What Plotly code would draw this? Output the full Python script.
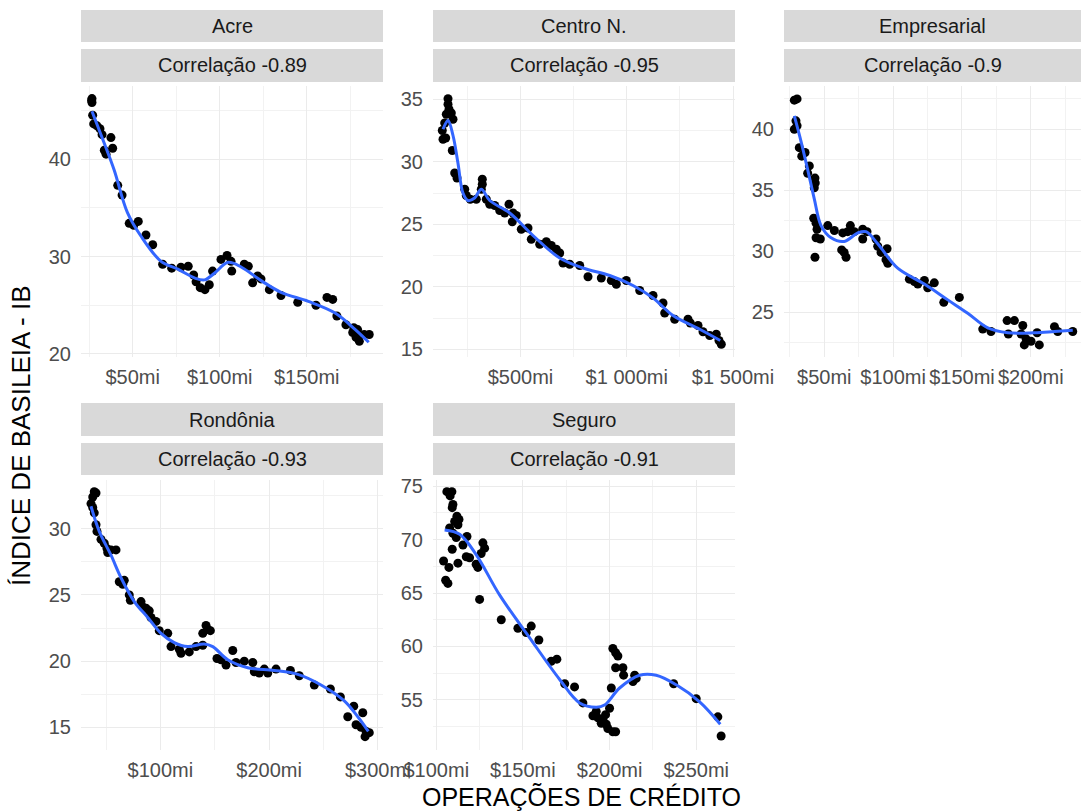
import plotly.graph_objects as go

W, H = 1081, 811
FONT = "Liberation Sans, Arial, sans-serif"

# ---------------- dados: operações de crédito (R$ mi) x índice de Basileia ----------------
acre_credito = [26.6, 26.6, 26.4, 27.0, 27.6, 29.5, 31.2, 32.4, 37.5, 33.7, 34.7, 38.5, 41.4, 43.9,
                48.0, 50.6, 53.2, 57.6, 61.5, 67.2, 72.4, 77.7, 81.9, 85.0, 86.4, 88.8, 91.5, 94.0,
                95.9, 100.7, 104.2, 106.5, 106.9, 114.1, 116.4, 118.9, 121.8, 123.7, 128.5, 135.2,
                144.8, 155.3, 161.6, 164.9, 167.3, 172.5, 176.4, 178.3, 180.2, 183.0, 185.9, 179.2, 177.0]
acre_ib = [46.2, 45.8, 46.0, 44.5, 43.6, 43.4, 43.1, 42.5, 42.2, 40.9, 40.5, 41.1, 37.3, 36.3,
           33.4, 33.2, 33.6, 32.2, 31.2, 29.2, 28.8, 28.9, 29.0, 28.1, 27.4, 26.8, 26.6, 27.1,
           28.5, 29.7, 30.1, 29.5, 28.5, 29.2, 29.0, 27.3, 28.0, 27.7, 26.6, 26.0,
           25.3, 25.0, 25.8, 25.6, 23.9, 23.0, 22.2, 21.7, 21.3, 22.0, 22.0, 22.5, 22.7]
acre_fit_credito = [26.6, 33.5, 39.3, 47.0, 54.7, 66.3, 75.9, 85.5, 91.3, 97.1, 104.8, 112.5,
                    124.0, 135.5, 150.9, 166.3, 177.9, 185.6]
acre_fit_ib = [44.9, 41.7, 38.9, 34.5, 32.1, 29.5, 28.7, 27.8, 27.6, 28.3, 29.4, 28.9,
               27.5, 26.3, 25.4, 24.2, 22.5, 21.2]

centro_credito = [159.2, 159.2, 163.9, 151.2, 174.7, 182.7, 143.7, 132.4, 135.7, 148.4, 179.4, 190.7,
                  201.5, 237.8, 245.3, 264.1, 292.3, 320.6, 320.6, 315.9, 339.4, 355.4, 378.9, 402.4,
                  426.0, 446.2, 465.0, 461.7, 480.5, 504.0, 535.6, 551.1, 590.6, 621.7, 645.2, 668.7,
                  684.7, 700.2, 731.7, 778.8, 817.8, 880.4, 927.5, 951.0, 998.0, 1061.1, 1123.7, 1170.7,
                  1178.7, 1225.7, 1288.3, 1299.1, 1335.4, 1358.9, 1390.3, 1421.4, 1434.1, 1445.0]
centro_ib = [35.05, 34.6, 34.2, 33.8, 33.9, 33.4, 33.1, 32.5, 31.8, 31.9, 30.9, 29.1,
             28.7, 27.8, 27.3, 27.0, 27.0, 28.6, 28.2, 27.8, 27.0, 26.6, 26.5, 26.1,
             25.9, 26.6, 25.9, 25.2, 25.7, 24.6, 24.7, 23.8, 23.4, 23.6, 23.3, 23.0,
             22.7, 21.9, 21.8, 21.7, 20.8, 20.7, 20.5, 20.2, 20.5, 19.7, 19.3, 18.7,
             17.9, 17.4, 17.4, 17.1, 16.9, 16.4, 16.1, 16.2, 15.7, 15.4]
centro_fit_credito = [135.7, 159.2, 182.7, 206.0, 229.5, 253.0, 284.5, 315.9, 355.4, 449.5, 559.0,
                      684.7, 794.3, 920.0, 1029.5, 1123.7, 1217.8, 1343.3, 1440.0]
centro_fit_ib = [32.6, 33.3, 32.1, 29.9, 27.5, 26.9, 27.1, 27.8, 26.9, 25.9, 24.1,
                 22.3, 21.5, 20.9, 20.1, 19.1, 17.7, 16.6, 15.7]

empresa_credito = [28.2, 30.2, 29.4, 28.2, 30.2, 31.8, 33.6, 36.0, 39.1, 37.9, 43.2, 43.4, 42.7,
                   42.3, 44.0, 44.7, 44.0, 47.1, 43.2, 52.5, 57.3, 63.4, 62.6, 65.8, 64.4, 68.9,
                   67.0, 71.8, 77.9, 81.0, 77.9, 87.6, 88.8, 91.2, 95.6, 94.8, 96.1, 111.8, 115.4,
                   117.9, 122.7, 125.1, 129.9, 136.8, 148.1, 165.1, 171.1, 182.8, 188.1, 183.7,
                   194.2, 193.0, 196.6, 195.3, 200.2, 206.2, 204.6, 217.2, 219.6, 230.5]
empresa_ib = [42.4, 42.5, 40.7, 40.0, 40.3, 38.5, 37.8, 38.1, 37.0, 36.4, 36.0, 35.6, 35.2,
              32.7, 32.3, 31.8, 31.1, 31.0, 29.5, 32.1, 31.7, 31.5, 30.1, 29.5, 29.9, 32.1,
              31.6, 31.6, 31.8, 31.6, 31.0, 31.0, 30.4, 29.9, 30.2, 29.3, 29.0, 27.7, 27.5,
              27.3, 27.6, 27.0, 27.4, 25.8, 26.2, 23.6, 23.4, 24.3, 24.3, 23.2,
              23.9, 23.2, 22.8, 22.3, 22.6, 22.3, 23.3, 23.8, 23.4, 23.4]
empresa_fit_credito = [28.2, 33.1, 37.9, 42.7, 47.6, 54.9, 64.5, 74.3, 80.3, 88.8, 103.3, 122.7,
                       139.7, 154.2, 168.8, 183.3, 202.6, 217.2, 230.5]
empresa_fit_ib = [41.1, 39.0, 36.7, 34.3, 32.1, 31.1, 30.8, 31.5, 31.6, 30.6, 28.6, 27.3,
                  26.0, 24.9, 23.7, 23.3, 23.3, 23.4, 23.5]

rondonia_credito = [39.2, 37.8, 40.8, 36.2, 37.8, 39.2, 40.8, 41.7, 45.4, 48.4, 50.9, 54.6, 59.2,
                    51.6, 62.2, 65.4, 66.8, 71.4, 72.4, 82.2, 83.8, 86.8, 89.8, 91.4, 96.0, 99.0,
                    106.8, 109.8, 117.4, 119.0, 126.6, 132.8, 139.0, 139.0, 142.0, 146.0, 143.6,
                    152.1, 155.8, 160.4, 166.6, 169.6, 177.2, 185.0, 186.4, 191.0, 195.6, 198.8,
                    206.4, 219.6, 227.8, 241.6, 256.4, 265.6, 277.9, 272.4, 286.2, 280.0, 284.6,
                    289.2, 288.3, 292.2]
rondonia_ib = [32.8, 32.4, 32.7, 31.9, 31.6, 31.2, 30.3, 29.8, 29.2, 28.9, 28.5, 28.4, 28.4,
               28.2, 26.0, 25.8, 26.1, 25.0, 24.6, 24.5, 24.1, 24.0, 23.8, 23.3, 23.0, 22.3,
               22.1, 21.1, 20.9, 20.6, 20.7, 21.1, 21.2, 22.1, 22.7, 22.3, 22.4,
               20.2, 20.1, 19.7, 20.8, 19.9, 20.0, 19.9, 19.2, 19.1, 19.4, 19.1,
               19.4, 19.3, 18.9, 18.2, 17.9, 17.3, 16.6, 15.8, 16.1, 15.2, 15.0,
               14.7, 14.3, 14.6]
rondonia_fit_credito = [36.2, 43.8, 54.6, 63.8, 76.0, 88.4, 100.6, 112.8, 125.2, 140.4, 148.2,
                        162.0, 180.4, 204.8, 226.4, 247.8, 269.2, 281.6, 291.3]
rondonia_fit_ib = [31.7, 29.8, 28.0, 26.3, 24.5, 23.3, 22.1, 21.4, 21.1, 21.3, 21.1,
                   20.1, 19.5, 19.3, 19.0, 18.2, 17.0, 15.8, 14.7]

seguro_credito = [106.1, 109.0, 108.0, 109.6, 109.2, 111.9, 113.1, 110.6, 112.5, 107.7, 109.6, 111.5,
                  117.7, 115.4, 126.9, 127.9, 125.9, 109.2, 104.2, 107.3, 112.5, 117.3, 119.2, 123.0,
                  124.0, 105.4, 106.7, 125.0, 137.5, 147.1, 151.9, 154.8, 159.2, 166.3, 169.6, 174.1,
                  179.8, 184.6, 190.4, 192.3, 193.3, 195.2, 196.2, 198.1, 199.0, 200.0, 201.0, 201.9,
                  203.5, 197.7, 201.9, 203.5, 204.8, 203.5, 207.7, 208.1, 213.5, 215.4, 214.5, 237.0,
                  250.0, 262.5, 264.4]
seguro_ib = [74.5, 74.5, 74.1, 73.3, 73.0, 72.2, 71.9, 71.7, 71.4, 71.1, 70.6, 70.2,
             70.3, 69.5, 69.7, 69.2, 68.7, 69.1, 68.0, 67.4, 67.8, 68.4, 68.3, 67.7,
             67.4, 66.2, 65.9, 64.4, 62.5, 61.7, 61.3, 61.9, 60.6, 58.6, 58.8, 56.5,
             56.2, 54.7, 53.5, 53.9, 53.3, 52.8, 53.2, 52.7, 52.3, 54.2, 56.1, 52.0,
             52.0, 53.6, 59.8, 59.4, 59.1, 58.0, 58.0, 57.3, 56.7, 57.0, 57.3, 56.5,
             55.1, 53.4, 51.6]
seguro_fit_credito = [104.8, 113.5, 123.0, 136.6, 153.9, 171.2, 182.7, 192.3, 197.1, 205.8, 217.3,
                      226.9, 238.5, 252.0, 263.9]
seguro_fit_ib = [70.9, 70.5, 68.6, 64.8, 60.8, 56.9, 54.7, 54.3, 54.5, 56.1, 57.3,
                 57.3, 56.4, 54.8, 52.7]

# ---------------- títulos das facetas e rótulos dos eixos ----------------
nomes = ["Acre", "Centro N.", "Empresarial", "Rondônia", "Seguro"]
correlacoes = ["Correlação -0.89", "Correlação -0.95", "Correlação -0.9",
               "Correlação -0.93", "Correlação -0.91"]

acre_xticks, acre_xlabels = [50, 100, 150], ["$50mi", "$100mi", "$150mi"]
centro_xticks, centro_xlabels = [500, 1000, 1500], ["$500mi", "$1 000mi", "$1 500mi"]
empresa_xticks, empresa_xlabels = [50, 100, 150, 200], ["$50mi", "$100mi", "$150mi", "$200mi"]
rondonia_xticks, rondonia_xlabels = [100, 200, 300], ["$100mi", "$200mi", "$300mi"]
seguro_xticks, seguro_xlabels = [100, 150, 200, 250], ["$100mi", "$150mi", "$200mi", "$250mi"]

acre_yticks = [20, 30, 40]
centro_yticks = [15, 20, 25, 30, 35]
empresa_yticks = [25, 30, 35, 40]
rondonia_yticks = [15, 20, 25, 30]
seguro_yticks = [55, 60, 65, 70, 75]

paineis = [
    dict(x=acre_credito, y=acre_ib, fx=acre_fit_credito, fy=acre_fit_ib,
         xt=acre_xticks, xl=acre_xlabels, xm=[25, 75, 125, 175],
         yt=acre_yticks, ym=[25, 35, 45],
         xr=[20.3, 193.8], yr=[19.69, 47.49], col=0, row=0),
    dict(x=centro_credito, y=centro_ib, fx=centro_fit_credito, fy=centro_fit_ib,
         xt=centro_xticks, xl=centro_xlabels, xm=[250, 750, 1250],
         yt=centro_yticks, ym=[17.5, 22.5, 27.5, 32.5],
         xr=[88.6, 1509.4], yr=[14.38, 36.06], col=1, row=0),
    dict(x=empresa_credito, y=empresa_ib, fx=empresa_fit_credito, fy=empresa_fit_ib,
         xt=empresa_xticks, xl=empresa_xlabels, xm=[25, 75, 125, 175, 225],
         yt=empresa_yticks, ym=[22.5, 27.5, 32.5, 37.5, 42.5],
         xr=[20.7, 236.5], yr=[21.31, 43.56], col=2, row=0),
    dict(x=rondonia_credito, y=rondonia_ib, fx=rondonia_fit_credito, fy=rondonia_fit_ib,
         xt=rondonia_xticks, xl=rondonia_xlabels, xm=[50, 150, 250],
         yt=rondonia_yticks, ym=[17.5, 22.5, 27.5, 32.5],
         xr=[27.0, 304.8], yr=[13.29, 33.68], col=0, row=1),
    dict(x=seguro_credito, y=seguro_ib, fx=seguro_fit_credito, fy=seguro_fit_ib,
         xt=seguro_xticks, xl=seguro_xlabels, xm=[125, 175, 225],
         yt=seguro_yticks, ym=[52.5, 57.5, 62.5, 67.5, 72.5],
         xr=[98.1, 272.4], yr=[50.29, 75.59], col=1, row=1),
]

# ---------------- geometria das facetas (pixels) ----------------
col_px = [(81, 383), (433, 735), (784, 1081)]
row_px = [(86, 357), (480, 750)]
strip_px = [[(10, 42), (49, 82)], [(403, 436), (443, 475)]]

def fx_(px):
    return px / W

def fy_(py):
    return 1 - py / H

GRID = "#EBEBEB"
TICKCOL = "#4D4D4D"

fig = go.Figure()
layout = dict(
    width=W, height=H, margin=dict(l=0, r=0, t=0, b=0, autoexpand=False),
    paper_bgcolor="white", plot_bgcolor="white",
    showlegend=False, font=dict(family=FONT, color="#1A1A1A"),
)
shapes, annotations = [], []

for i, p in enumerate(paineis, start=1):
    sfx = "" if i == 1 else str(i)
    x0, x1 = col_px[p["col"]]
    y0, y1 = row_px[p["row"]]

    fig.add_trace(go.Scatter(
        x=p["x"], y=p["y"], mode="markers", xaxis="x" + sfx, yaxis="y" + sfx,
        marker=dict(color="black", size=9), cliponaxis=False, hoverinfo="skip"))
    fig.add_trace(go.Scatter(
        x=p["fx"], y=p["fy"], mode="lines", xaxis="x" + sfx, yaxis="y" + sfx,
        line=dict(color="#3366FF", width=3, shape="spline", smoothing=1.0),
        cliponaxis=False, hoverinfo="skip"))

    layout["xaxis" + sfx] = dict(
        domain=[fx_(x0), fx_(x1)], anchor="y" + sfx, range=p["xr"], automargin=False,
        tickmode="array", tickvals=p["xt"], ticktext=p["xl"], tickangle=0,
        showgrid=True, gridcolor=GRID, gridwidth=1.3, zeroline=False, showline=False,
        ticks="", ticklabelstandoff=6,
        tickfont=dict(family=FONT, size=20, color=TICKCOL),
        minor=dict(tickmode="array", tickvals=p["xm"], showgrid=True,
                   gridcolor="#F2F2F2", gridwidth=0.8, ticks=""),
    )
    layout["yaxis" + sfx] = dict(
        domain=[fy_(y1), fy_(y0)], anchor="x" + sfx, range=p["yr"], automargin=False,
        tickmode="array", tickvals=p["yt"], ticktext=[str(v) for v in p["yt"]],
        showgrid=True, gridcolor=GRID, gridwidth=1.3, zeroline=False, showline=False,
        ticks="", ticklabelstandoff=9,
        tickfont=dict(family=FONT, size=20, color=TICKCOL),
        minor=dict(tickmode="array", tickvals=p["ym"], showgrid=True,
                   gridcolor="#F2F2F2", gridwidth=0.8, ticks=""),
    )

    # faixas com o nome e a correlação
    for (sy0, sy1), texto in zip(strip_px[p["row"]], [nomes[i - 1], correlacoes[i - 1]]):
        shapes.append(dict(type="rect", xref="paper", yref="paper",
                           x0=fx_(x0), x1=fx_(x1), y0=fy_(sy1), y1=fy_(sy0),
                           fillcolor="#D9D9D9", line=dict(width=0), layer="below"))
        annotations.append(dict(text=texto, xref="paper", yref="paper",
                                x=fx_((x0 + x1) / 2), y=fy_((sy0 + sy1) / 2),
                                xanchor="center", yanchor="middle", showarrow=False,
                                font=dict(family=FONT, size=20, color="#1A1A1A")))

# títulos dos eixos
annotations.append(dict(text="OPERAÇÕES DE CRÉDITO", xref="paper", yref="paper",
                        x=fx_(581), y=fy_(797), xanchor="center", yanchor="middle",
                        showarrow=False, font=dict(family=FONT, size=25, color="black")))
annotations.append(dict(text="ÍNDICE DE BASILEIA - IB", xref="paper", yref="paper",
                        x=fx_(21), y=fy_(436), xanchor="center", yanchor="middle",
                        textangle=-90, showarrow=False,
                        font=dict(family=FONT, size=26, color="black")))

layout["shapes"] = shapes
layout["annotations"] = annotations
fig.update_layout(**layout)
fig.write_html("out.html")
